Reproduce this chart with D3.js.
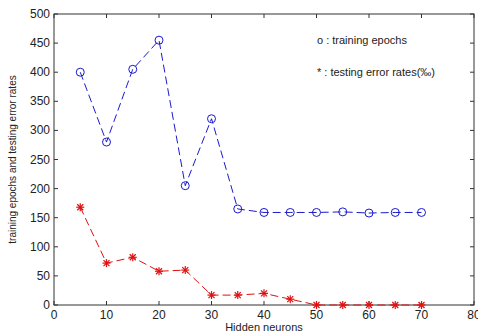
<!DOCTYPE html>
<html>
<head>
<meta charset="utf-8">
<script src="https://cdn.jsdelivr.net/npm/d3@7"></script>
<style>
  body { margin: 0; background: #fff; }
  text { font-family: Arial, "Liberation Sans", sans-serif; fill: #222; }
</style>
</head>
<body>
<script>
// hidden neuron counts
var neurons = [5, 10, 15, 20, 25, 30, 35, 40, 45, 50, 55, 60, 65, 70];
// o : training epochs
var epochs = [400, 280, 405, 455, 205, 320, 165, 159, 159, 159, 160, 158, 159, 159];
// * : testing error rates (permille)
var errRates = [168, 72, 82, 58, 60, 17, 17, 20, 10, 0, 0, 0, 0, 0];
var xTicks = [0, 10, 20, 30, 40, 50, 60, 70, 80];
var yTicks = [0, 50, 100, 150, 200, 250, 300, 350, 400, 450, 500];

var W = 478, H = 334;
var padL = 54, padR = 474, padT = 14, padB = 305;

var svg = d3.select('body').append('svg')
            .attr('width', W)
            .attr('height', H);

var x = d3.scaleLinear().domain([0, 80]).range([padL, padR]);
var y = d3.scaleLinear().domain([0, 500]).range([padB, padT]);

// box
svg.append('rect')
   .attr('x', padL).attr('y', padT)
   .attr('width', padR - padL).attr('height', padB - padT)
   .attr('fill', 'none').attr('stroke', '#333').attr('stroke-width', 1);

var tick = 4;
// x ticks bottom / top (inward)
svg.selectAll('.xt').data(xTicks).enter().append('line')
   .attr('x1', function(d){ return x(d); }).attr('x2', function(d){ return x(d); })
   .attr('y1', padB).attr('y2', padB - tick).attr('stroke', '#333');
svg.selectAll('.xt2').data(xTicks).enter().append('line')
   .attr('x1', function(d){ return x(d); }).attr('x2', function(d){ return x(d); })
   .attr('y1', padT).attr('y2', padT + tick).attr('stroke', '#333');
svg.selectAll('.xl').data(xTicks).enter().append('text')
   .attr('x', function(d){ return x(d); }).attr('y', padB + 14)
   .attr('text-anchor', 'middle').attr('font-size', 12)
   .text(function(d){ return d; });

// y ticks left / right
svg.selectAll('.yt').data(yTicks).enter().append('line')
   .attr('x1', padL).attr('x2', padL + tick)
   .attr('y1', function(d){ return y(d); }).attr('y2', function(d){ return y(d); })
   .attr('stroke', '#333');
svg.selectAll('.yt2').data(yTicks).enter().append('line')
   .attr('x1', padR).attr('x2', padR - tick)
   .attr('y1', function(d){ return y(d); }).attr('y2', function(d){ return y(d); })
   .attr('stroke', '#333');
svg.selectAll('.yl').data(yTicks).enter().append('text')
   .attr('x', padL - 4).attr('y', function(d){ return y(d) + 4; })
   .attr('text-anchor', 'end').attr('font-size', 12)
   .text(function(d){ return d; });

// axis labels
svg.append('text')
   .attr('x', (padL + padR) / 2).attr('y', 331)
   .attr('text-anchor', 'middle').attr('font-size', 11)
   .text('Hidden neurons');
svg.append('text')
   .attr('transform', 'translate(16,' + ((padT + padB) / 2) + ') rotate(-90)')
   .attr('text-anchor', 'middle').attr('font-size', 10)
   .text('training epochs and testing error rates');

var line = d3.line()
             .x(function(d){ return x(d[0]); })
             .y(function(d){ return y(d[1]); });

var blue = '#1a1acc', red = '#e01010';

var epochPts = neurons.map(function(n, i){ return [n, epochs[i]]; });
var errPts = neurons.map(function(n, i){ return [n, errRates[i]]; });

svg.append('path').datum(epochPts)
   .attr('d', line).attr('fill', 'none')
   .attr('stroke', blue).attr('stroke-width', 1)
   .attr('stroke-dasharray', '8,4');
svg.append('path').datum(errPts)
   .attr('d', line).attr('fill', 'none')
   .attr('stroke', red).attr('stroke-width', 1)
   .attr('stroke-dasharray', '8,4');

// circle markers
svg.selectAll('.circ').data(epochPts).enter().append('circle')
   .attr('cx', function(d){ return x(d[0]); })
   .attr('cy', function(d){ return y(d[1]); })
   .attr('r', 4).attr('fill', 'none').attr('stroke', blue).attr('stroke-width', 1);

// star markers
var star = svg.selectAll('.star').data(errPts).enter().append('g')
   .attr('transform', function(d){ return 'translate(' + x(d[0]) + ',' + y(d[1]) + ')'; })
   .attr('stroke', red).attr('stroke-width', 1.2);
star.append('line').attr('x1', -4).attr('x2', 4).attr('y1', 0).attr('y2', 0);
star.append('line').attr('x1', 0).attr('x2', 0).attr('y1', -4).attr('y2', 4);
star.append('line').attr('x1', -3).attr('x2', 3).attr('y1', -3).attr('y2', 3);
star.append('line').attr('x1', -3).attr('x2', 3).attr('y1', 3).attr('y2', -3);

// legend text
svg.append('text').attr('x', 317).attr('y', 44).attr('font-size', 11)
   .text('o : training epochs');
svg.append('text').attr('x', 317).attr('y', 76).attr('font-size', 11)
   .text('* : testing error rates(\u2030)');
</script>
</body>
</html>
